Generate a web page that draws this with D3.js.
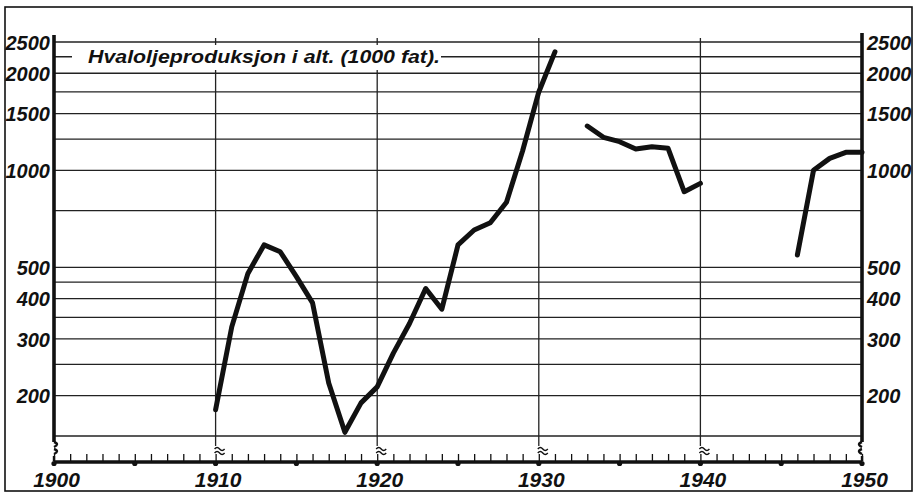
<!DOCTYPE html>
<html>
<head>
<meta charset="utf-8">
<script src="https://cdn.jsdelivr.net/npm/d3@7"></script>
<style>
  html, body { margin: 0; padding: 0; background: #fff; }
  svg { display: block; }
  text { font-family: "Liberation Sans", Arial, sans-serif; font-style: italic; font-weight: bold; fill: #111; }
</style>
</head>
<body>
<svg id="chart" width="919" height="494"></svg>
<script>
// ---- data ----
const title = "Hvaloljeproduksjon i alt. (1000 fat).";
const years1 = [1910,1911,1912,1913,1914,1915,1916,1917,1918,1919,1920,1921,1922,1923,1924,1925,1926,1927,1928,1929,1930,1931];
const values1 = [181,327,479,587,559,468,388,219,154,190,213,271,335,430,371,587,653,688,796,1150,1750,2330];
const years2 = [1933,1934,1935,1936,1937,1938,1939,1940];
const values2 = [1372,1266,1227,1164,1184,1170,858,911];
const years3 = [1946,1947,1948,1949,1950];
const values3 = [546,1000,1089,1137,1137];
const gridValues = [150,200,250,300,350,400,450,500,750,1000,1250,1500,1750,2000,2250,2500];
const yTickLabels = [200,300,400,500,1000,1500,2000,2500];
const xTickLabels = [1900,1910,1920,1930,1940,1950];
const decadeLines = [1910,1920,1930,1940];

// ---- layout ----
const svg = d3.select("#chart");
const x = d3.scaleLinear().domain([1900, 1950]).range([54, 862]);
const y = d3.scaleLog().domain([150, 2500]).range([436, 42]);
const axisY = 461;
const ink = "#111";

// frame
svg.append("rect").attr("x", 5).attr("y", 7).attr("width", 907).attr("height", 484)
  .attr("fill", "none").attr("stroke", ink).attr("stroke-width", 1.6);

// horizontal grid lines
svg.append("g").selectAll("line").data(gridValues).join("line")
  .attr("x1", x(1900)).attr("x2", x(1950))
  .attr("y1", d => y(d)).attr("y2", d => y(d))
  .attr("stroke", "#222").attr("stroke-width", 1.3);

// vertical decade lines
svg.append("g").selectAll("line").data(decadeLines).join("line")
  .attr("x1", d => x(d)).attr("x2", d => x(d))
  .attr("y1", 38).attr("y2", 446)
  .attr("stroke", "#222").attr("stroke-width", 1.3);

// break marks on decade lines (two small waves)
svg.append("g").selectAll("path").data(decadeLines).join("path")
  .attr("d", d => { const cx = x(d); return `M${cx-1},449 q2.5,-3 5,0 t5,0 M${cx-1},453 q2.5,-3 5,0 t5,0`; })
  .attr("fill", "none").attr("stroke", ink).attr("stroke-width", 1.4);

// title with white background interrupting the grid line
svg.append("rect").attr("x", 72).attr("y", 45).attr("width", 369).attr("height", 25).attr("fill", "#fff");
svg.append("text").attr("x", 88).attr("y", 63)
  .attr("textLength", 352).attr("lengthAdjust", "spacingAndGlyphs")
  .style("font-size", "18px").text(title);

// thick vertical axes
svg.append("line").attr("x1", x(1900)).attr("x2", x(1900)).attr("y1", 35).attr("y2", 442)
  .attr("stroke", ink).attr("stroke-width", 3.6);
svg.append("line").attr("x1", x(1950)).attr("x2", x(1950)).attr("y1", 33).attr("y2", 442)
  .attr("stroke", ink).attr("stroke-width", 3.6);
// axis break squiggles at bottom of vertical axes
[x(1900), x(1950)].forEach((xx, i) => {
  const s = i === 0 ? 1 : -1;
  svg.append("path")
    .attr("d", `M${xx},442 q${6*s},2 0,5 M${xx},449 q${6*s},2 0,5 M${xx},456 L${xx},${axisY}`)
    .attr("fill", "none").attr("stroke", ink).attr("stroke-width", 2.4);
});

// x axis: thick base line with yearly ticks
const xAxisMinor = d3.axisTop(x).tickValues(d3.range(1900, 1951)).tickSize(7).tickFormat("");
const gx = svg.append("g").attr("transform", `translate(0,${axisY})`).call(xAxisMinor);
gx.select(".domain").remove();
gx.selectAll(".tick line").attr("stroke", ink).attr("stroke-width", 1.3);
svg.append("line").attr("x1", x(1900)).attr("x2", x(1950)).attr("y1", axisY + 1).attr("y2", axisY + 1)
  .attr("stroke", ink).attr("stroke-width", 3.6);
// dots every 5 years
svg.append("g").selectAll("circle").data(d3.range(1900, 1951, 5)).join("circle")
  .attr("cx", d => x(d)).attr("cy", axisY + 2.5).attr("r", 2.6).attr("fill", ink);

// x labels
const xAxisLab = d3.axisBottom(x).tickValues(xTickLabels).tickSize(0).tickPadding(0).tickFormat(d3.format("d"));
const gl = svg.append("g").attr("transform", `translate(2,${axisY})`).call(xAxisLab);
gl.select(".domain").remove();
gl.selectAll(".tick text").attr("y", 26).attr("dy", 0)
  .style("font-size", "21px").style("font-family", "'Liberation Sans', Arial, sans-serif")
  .style("font-style", "italic").style("font-weight", "bold").attr("fill", ink);

// y labels left and right
const yl = d3.axisLeft(y).tickValues(yTickLabels).tickSize(0).tickPadding(0).tickFormat(d3.format("d"));
const gyl = svg.append("g").attr("transform", `translate(${x(1900) - 4},0)`).call(yl);
gyl.select(".domain").remove();
const yr = d3.axisRight(y).tickValues(yTickLabels).tickSize(0).tickPadding(0).tickFormat(d3.format("d"));
const gyr = svg.append("g").attr("transform", `translate(${x(1950) + 5},0)`).call(yr);
gyr.select(".domain").remove();
[gyl, gyr].forEach(g => g.selectAll(".tick text")
  .attr("dy", "0.36em")
  .style("font-size", "20px").style("font-family", "'Liberation Sans', Arial, sans-serif")
  .style("font-style", "italic").style("font-weight", "bold").attr("fill", ink));

// data line
const line = d3.line().x(d => x(d[0])).y(d => y(d[1]));
[[years1, values1], [years2, values2], [years3, values3]].forEach(([ys, vs]) => {
  svg.append("path").datum(ys.map((yr, i) => [yr, vs[i]]))
    .attr("d", line).attr("fill", "none").attr("stroke", ink)
    .attr("stroke-width", 5).attr("stroke-linejoin", "round").attr("stroke-linecap", "round");
});
</script>
</body>
</html>
